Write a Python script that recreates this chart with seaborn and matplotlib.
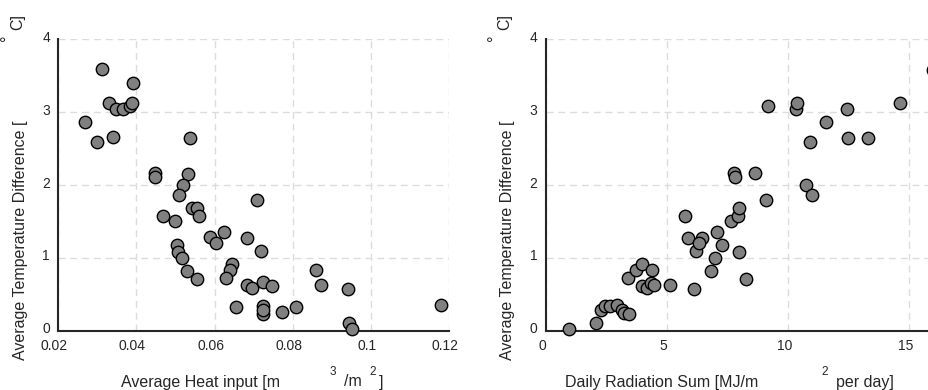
import numpy as np
import pandas as pd
import matplotlib
matplotlib.use('Agg')
import matplotlib.pyplot as plt
import matplotlib.transforms as mtransforms
import seaborn as sns


# Datos
# Panel izquierdo: calor medio aportado vs diferencia de temperatura
heat_input = [0.0313, 0.0390, 0.0330, 0.0348, 0.0365, 0.0383, 0.0388, 0.0269,
              0.0298, 0.0340, 0.0536, 0.0447, 0.0447, 0.0531, 0.0520, 0.0510,
              0.0708, 0.0541, 0.0555, 0.0561, 0.0467, 0.0499, 0.0625, 0.0587,
              0.0604, 0.0684, 0.0719, 0.0505, 0.0507, 0.0516, 0.0530, 0.0554,
              0.0644, 0.0639, 0.0629, 0.0684, 0.0697, 0.0725, 0.0746, 0.0860,
              0.0873, 0.0941, 0.0654, 0.0725, 0.0725, 0.0725, 0.0773, 0.0808,
              0.0943, 0.0953, 0.1180]
dT_heat = [3.59, 3.40, 3.12, 3.04, 3.04, 3.08, 3.13, 2.86,
           2.59, 2.66, 2.65, 2.16, 2.11, 2.15, 2.00, 1.86,
           1.80, 1.69, 1.69, 1.57, 1.57, 1.51, 1.36, 1.28,
           1.21, 1.27, 1.09, 1.18, 1.08, 1.00, 0.82, 0.71,
           0.91, 0.83, 0.73, 0.63, 0.59, 0.67, 0.62, 0.84,
           0.63, 0.57, 0.33, 0.34, 0.23, 0.28, 0.26, 0.32,
           0.10, 0.03, 0.35]

# Panel derecho: radiacion diaria vs diferencia de temperatura
radiation = [0.98, 2.06, 2.28, 2.45, 2.66, 2.93, 3.14, 3.23, 3.44, 3.39,
             3.73, 4.00, 4.40, 3.99, 4.17, 4.35, 4.49, 5.13, 5.75, 5.89,
             6.12, 6.23, 6.47, 6.32, 6.85, 6.99, 7.07, 7.29, 7.65, 7.77,
             7.84, 7.95, 7.99, 7.97, 8.26, 8.64, 9.10, 9.19, 10.36, 10.39,
             10.75, 10.91, 11.01, 11.60, 12.47, 12.50, 13.32, 14.66, 16.00]
dT_rad = [0.03, 0.10, 0.28, 0.34, 0.34, 0.35, 0.28, 0.24, 0.23, 0.73,
          0.84, 0.91, 0.84, 0.62, 0.59, 0.66, 0.63, 0.63, 1.57, 1.27,
          0.57, 1.10, 1.27, 1.21, 0.82, 1.00, 1.36, 1.18, 1.51, 2.16,
          2.11, 1.57, 1.69, 1.08, 0.71, 2.17, 1.80, 3.08, 3.04, 3.13,
          2.00, 2.59, 1.86, 2.86, 3.05, 2.65, 2.65, 3.13, 3.58]

heat_ticks = [0.02, 0.04, 0.06, 0.08, 0.1, 0.12]
heat_labels = ['0.02', '0.04', '0.06', '0.08', '0.1', '0.12']
rad_ticks = [0, 5, 10, 15]
dT_ticks = [0, 1, 2, 3, 4]

df_heat = pd.DataFrame({'x': heat_input, 'y': dT_heat})
df_rad = pd.DataFrame({'x': radiation, 'y': dT_rad})


# Estilo general
sns.set_style('white')
plt.rcParams['font.family'] = ['Liberation Sans', 'DejaVu Sans']
plt.rcParams['font.size'] = 10

fig = plt.figure(figsize=(9.29, 3.9), dpi=100)
ax1 = fig.add_axes([0.0628, 0.152, 0.4205, 0.747])
# el panel derecho queda cortado por el borde de la figura, como en el original
ax2 = fig.add_axes([0.5874, 0.152, 0.4245, 0.747])

spine_col = '#262626'


def estilo(ax, xlim, xticks, dx):
    ax.set_xlim(xlim)
    ax.set_ylim(0, 4)
    ax.set_xticks(xticks)
    ax.set_yticks(dT_ticks)
    ax.grid(True, color='#dcdcdc', linestyle=(0, (5, 3.5)), linewidth=1)
    ax.set_axisbelow(True)
    for s in ['top', 'right']:
        ax.spines[s].set_visible(False)
    for s in ['left', 'bottom']:
        ax.spines[s].set_color(spine_col)
        ax.spines[s].set_linewidth(1.5)
    ax.tick_params(direction='in', length=4, width=1.2, color=spine_col,
                   labelsize=10, labelcolor='#262626', pad=6)
    ax.set_xlabel('')
    ax.set_ylabel('')
    # pequeno desplazamiento de las etiquetas como en la exportacion original
    off_x = mtransforms.ScaledTranslation(dx / 100, 0, fig.dpi_scale_trans)
    for lab in ax.get_xticklabels():
        lab.set_transform(lab.get_transform() + off_x)
    off_y = mtransforms.ScaledTranslation(0, 3 / 100, fig.dpi_scale_trans)
    for lab in ax.get_yticklabels():
        lab.set_transform(lab.get_transform() + off_y)


sns.scatterplot(data=df_heat, x='x', y='y', ax=ax1, s=80, color='#808080',
                edgecolor='black', linewidth=1, zorder=3, clip_on=False)
ax1.set_xticks(heat_ticks)
ax1.set_xticklabels(heat_labels)
estilo(ax1, (0.02, 0.12), heat_ticks, -4)

sns.scatterplot(data=df_rad, x='x', y='y', ax=ax2, s=80, color='#808080',
                edgecolor='black', linewidth=1, zorder=3, clip_on=False)
estilo(ax2, (0, 16.3), rad_ticks, -3)


# Etiquetas (estilo exportado de MATLAB, con superindices sueltos)
W, H = 929.0, 390.0
txt = dict(color='#262626', fontsize=11.5)
sup = dict(color='#262626', fontsize=8.5)

fig.text(201 / W, 1 - 382 / H, 'Average Heat input [m', ha='center', va='center', **txt)
fig.text(333 / W, 1 - 372 / H, '3', ha='center', va='center', **sup)
fig.text(353 / W, 1 - 382 / H, '/m', ha='center', va='center', **txt)
fig.text(373 / W, 1 - 372 / H, '2', ha='center', va='center', **sup)
fig.text(381 / W, 1 - 383 / H, ']', ha='center', va='center', **txt)

fig.text(662 / W, 1 - 382 / H, 'Daily Radiation Sum [MJ/m', ha='center', va='center', **txt)
fig.text(825 / W, 1 - 372 / H, '2', ha='center', va='center', **sup)
fig.text(865 / W, 1 - 382 / H, 'per day]', ha='center', va='center', **txt)

for x0 in [58.3, 545.7]:
    fig.text((x0 - 38) / W, 1 - 240 / H, 'Average Temperature Difference [',
             ha='center', va='center', rotation=90, **txt)
    fig.text((x0 - 41) / W, 1 - 22 / H, 'C]', ha='center', va='center',
             rotation=90, **txt)
    fig.text((x0 - 50) / W, 1 - 38 / H, '°', ha='center', va='center',
             rotation=90, **txt)

fig.savefig('out.png', dpi=100)
